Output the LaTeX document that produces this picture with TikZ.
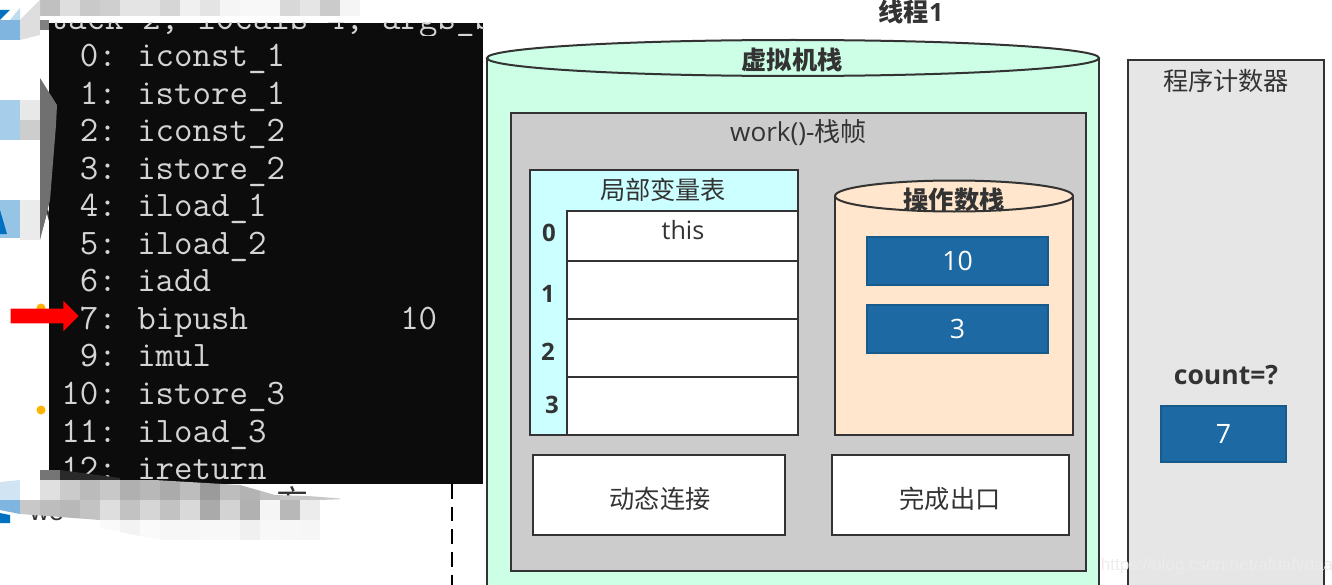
\documentclass[tikz,border=0pt]{standalone}
\usepackage{fontspec}
\setmainfont{Open Sans}
\newfontfamily\cjk{Noto Sans CJK SC}
\newfontfamily\wmfont{Liberation Sans}
\usetikzlibrary{positioning, shapes.geometric, shapes.arrows}
\definecolor{inkline}{HTML}{333333}
\definecolor{termblack}{HTML}{0C0C0C}
\definecolor{termtext}{HTML}{D4D4D4}
\definecolor{vmgreen}{HTML}{CCFFE6}
\definecolor{framegray}{HTML}{CCCCCC}
\definecolor{tablecyan}{HTML}{CCFFFF}
\definecolor{opsorange}{HTML}{FFE6CC}
\definecolor{pcgray}{HTML}{E6E6E6}
\definecolor{valblue}{HTML}{1D69A3}
\definecolor{valedge}{HTML}{175A8C}
\tikzset {
    boxsize/.style 2 args={minimum width=#1*0.75pt, minimum height=#2*0.75pt},
    plainbox/.style={draw=inkline, line width=1.5pt, inner sep=0pt, outer sep=0pt},
    lbl/.style={text=inkline, inner sep=0pt, font=\fontsize{18.9}{22}\selectfont\cjk},
    boldlbl/.style={lbl, font=\fontsize{18.9}{22}\selectfont\cjk\bfseries},
    idx/.style={text=inkline, inner sep=0pt, font=\fontsize{18}{22}\selectfont\bfseries},
    valbox/.style={draw=valedge, fill=valblue, line width=1.5pt, text=white, inner sep=0pt, outer sep=0pt, font=\fontsize{20}{24}\selectfont},
    rowbox/.style={plainbox, fill=white},
    code/.style={text=termtext, inner sep=0pt, font=\fontsize{26.9}{30}\selectfont\ttfamily},
    wall/.style={draw=inkline, line width=1.5pt}
}
\newcommand{\gcell}[4]{\fill[fill={rgb,255:red,#4;green,#4;blue,#4}] (#1,#2) rectangle ++(20,#3);}
\begin{document}
\begin{tikzpicture}[x=0.75pt, y=-0.75pt]
    \useasboundingbox (0,0) rectangle (1332,585);

    \node[inner sep=0pt, font=\fontsize{22}{24}\selectfont\wmfont, text=inkline, anchor=base] (frag1) at (47,230) {W};
    \node[inner sep=0pt, font=\fontsize{20}{24}\selectfont\wmfont, text=inkline, anchor=base] (frag2) at (47,520) {we};
    \node[lbl, font=\fontsize{24}{26}\selectfont\cjk] (frag3) at (292,501) {方};
    \fill[orange!60!yellow] (41,410) circle (4.5);
    \fill[orange!60!yellow] (41,308) circle (4.5);
    \draw[black, line width=1.5pt, dash pattern=on 11pt off 6pt] (452,484) -- (452,585);

    \fill[termblack] (49,23) rectangle (483,484);
    \begin{scope}
        \clip (49,23) rectangle (483,36);
        \node[code, anchor=base west] (topline) at (31,30) {stack=2, locals=4, args\_size=1};
    \end{scope}
    \foreach \n/\op [count=\i from 0] in {0/iconst\_1, 1/istore\_1, 2/iconst\_2, 3/istore\_2, 4/iload\_1, 5/iload\_2, 6/iadd, 7/bipush, 9/imul, 10/istore\_3, 11/iload\_3, 12/ireturn} {
        \node[code, anchor=base east] (num\i) at (117,66.5+37.55*\i) {\n:};
        \node[code, anchor=base west] (op\i) at (137,66.5+37.55*\i) {\op};
    }
    \node[code, anchor=base west] (arg7) at (400,329.35) {10};
    \node[single arrow, fill=red, inner xsep=0pt, inner ysep=5.4pt, minimum width=22.5pt, minimum height=51pt, single arrow head extend=5.85pt, single arrow head indent=0pt, anchor=tip] (pointer) at (79,316) {};

    \foreach \x/\g in {40/192, 60/222, 80/201, 100/207, 120/228, 140/228, 160/214, 180/240, 200/228, 220/245, 240/248, 260/248, 280/216, 300/229, 320/203, 340/245} {
        \gcell{\x}{0}{16}{\g}
    }
    \fill[fill={rgb,255:red,222;green,222;blue,222}] (20,20) -- (40,0) -- (40,35) -- (20,40) -- cycle;
    \fill[fill={rgb,255:red,127;green,181;blue,222}] (0,20) rectangle (20,40);
    \fill[fill={rgb,255:red,190;green,220;blue,240}] (10,20) -- (20,8) -- (20,20) -- cycle;
    \fill[fill={rgb,255:red,0;green,112;blue,192}] (0,10) -- (10,10) -- (0,20) -- cycle;
    \fill[fill={rgb,255:red,128;green,128;blue,128}] (40,20) rectangle (49,30);

    \fill[fill={rgb,255:red,166;green,205;blue,233}] (0,100) rectangle (20,140);
    \fill[fill={rgb,255:red,232;green,232;blue,232}] (20,100) rectangle (40,120);
    \fill[fill={rgb,255:red,205;green,205;blue,205}] (20,120) rectangle (40,140);
    \fill[fill={rgb,255:red,112;green,112;blue,112}] (40,78) -- (57,105) -- (56,125) -- (50,200) -- (40,240) -- cycle;
    \fill[fill={rgb,255:red,150;green,196;blue,228}] (0,200) rectangle (20,238);
    \fill[fill={rgb,255:red,0;green,112;blue,192}] (0,210) -- (7,234) -- (0,234) -- cycle;
    \fill[fill={rgb,255:red,235;green,235;blue,235}] (20,200) rectangle (40,240);

    \begin{scope}
        \clip (0,482) -- (20,480) -- (40,470) -- (60,470) -- (120,478) -- (240,485) -- (275,495) -- (308,496) -- (347,499) -- (320,500) -- (320,540) -- (160,540) -- (100,528) -- (100,520) -- (20,514) -- (0,510) -- cycle;
        \fill[fill={rgb,255:red,208;green,228;blue,244}] (0,480) rectangle (20,500);
        \gcell{20}{480}{20}{255}
        \gcell{40}{470}{10}{117}
        \gcell{60}{470}{10}{42}
        \gcell{80}{470}{10}{42}
        \gcell{100}{470}{10}{42}
        \foreach \x/\g in {40/224, 60/203, 80/187, 100/200, 120/176, 140/184, 160/171, 180/189, 200/155, 220/189, 240/179, 260/192, 280/200, 300/200, 320/200} {
            \gcell{\x}{480}{20}{\g}
        }
        \fill[fill={rgb,255:red,127;green,181;blue,222}] (0,500) rectangle (20,520);
        \foreach \x/\g in {20/200, 40/189, 60/184, 80/195, 100/222, 120/194, 140/214, 160/194, 180/217, 200/170, 220/211, 240/177, 260/245, 280/184, 300/236} {
            \gcell{\x}{500}{20}{\g}
        }
        \foreach \x/\g in {100/250, 120/243, 140/250, 160/247, 180/247, 200/248, 220/248, 240/240, 260/248, 280/247, 300/246} {
            \gcell{\x}{520}{20}{\g}
        }
    \end{scope}
    \fill[fill={rgb,255:red,0;green,112;blue,192}] (0,513) -- (10,515) -- (10,523) -- (0,523) -- cycle;

    \node[boldlbl] (thread) at (911,11.5) {线程{\rmfamily 1}};

    \fill[vmgreen] (487,58) rectangle (1099,590);
    \draw[wall] (487,590) -- (487,58);
    \draw[wall] (1099,590) -- (1099,58);
    \node[ellipse, plainbox, fill=vmgreen, boxsize={612}{36}] (vmtop) at (793,58) {};
    \node[boldlbl] (vmlabel) at (792,60) {虚拟机栈};

    \node[plainbox, fill=framegray, boxsize={575}{458}] (frame) at (798.5,342) {};
    \node[lbl, font=\fontsize{19.6}{22}\selectfont\cjk] (framelabel) at (798.5,133) {{\rmfamily work()-}栈帧};

    \node[plainbox, fill=tablecyan, boxsize={268}{265}] (table) at (664,302.5) {};
    \node[lbl] (tablelabel) at (663,190) {局部变量表};
    \node[rowbox, boxsize={231}{50}, anchor=north west] (row0) at (567,211) {};
    \node[rowbox, boxsize={231}{58}, below=0pt of row0] (row1) {};
    \node[rowbox, boxsize={231}{58}, below=0pt of row1] (row2) {};
    \node[rowbox, boxsize={231}{58}, below=0pt of row2] (row3) {};
    \node[lbl, font=\fontsize{18.9}{22}\selectfont] (thislabel) at (683,230) {this};
    \node[idx] (idx0) at (549,233) {0};
    \node[idx] (idx1) at (548,294) {1};
    \node[idx] (idx2) at (548,352) {2};
    \node[idx] (idx3) at (552,405) {3};

    \fill[opsorange] (835,196) rectangle (1073,435);
    \draw[wall] (835,196) -- (835,435) -- (1073,435) -- (1073,196);
    \node[ellipse, plainbox, fill=opsorange, boxsize={238}{31}] (opstop) at (954,196) {};
    \node[boldlbl] (opslabel) at (954,200) {操作数栈};
    \node[valbox, boxsize={181.5}{48.5}] (val10) at (957.5,261) {10};
    \node[valbox, boxsize={181.5}{48.5}, below=14.6pt of val10] (val3) {3};

    \node[plainbox, fill=white, boxsize={252}{80}] (dynlink) at (659,495) {};
    \node[lbl] (dynlabel) at (660,499) {动态连接};
    \node[plainbox, fill=white, boxsize={237}{80}] (retaddr) at (950.5,495) {};
    \node[lbl] (retlabel) at (950,499) {完成出口};

    \node[plainbox, fill=pcgray, boxsize={196}{540}] (pc) at (1226,330) {};
    \node[lbl] (pclabel) at (1226,81) {程序计数器};
    \node[text=inkline, inner sep=0pt, font=\fontsize{19.9}{22}\selectfont\bfseries] (countlabel) at (1226,375) {count=?};
    \node[valbox, boxsize={125.5}{56.5}] (val7) at (1223.5,434) {7};

    \node[text=white!85!gray, inner sep=0pt, font=\fontsize{12.8}{14}\selectfont\wmfont] (watermark) at (1217,566) {https://blog.csdn.net/afdafvdaa};
\end{tikzpicture}
\end{document}
